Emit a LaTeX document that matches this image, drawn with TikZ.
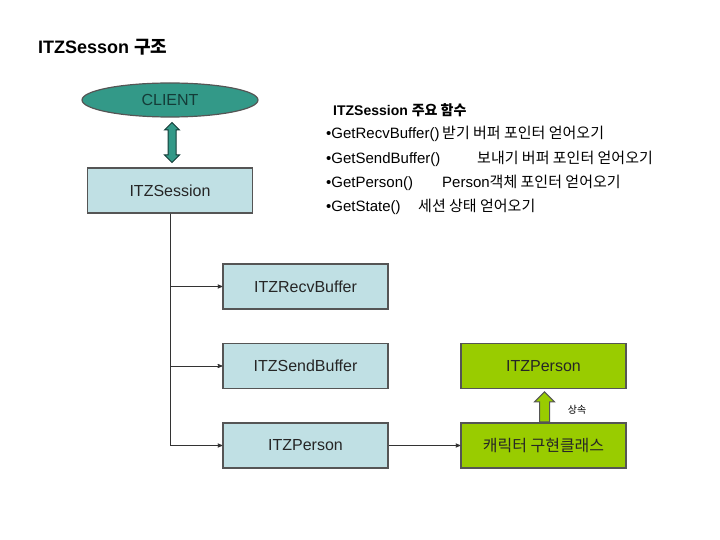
\documentclass[tikz,border=0pt]{standalone}
\usepackage{fontspec}
\setmainfont{Liberation Sans}
\newfontfamily\krfont{Noto Sans CJK KR}
\usetikzlibrary{arrows}
\usetikzlibrary{calc,shapes.geometric,shapes.arrows}

\definecolor{clientteal}{RGB}{51,153,136}
\definecolor{clienttext}{RGB}{20,60,56}
\definecolor{boxblue}{RGB}{192,224,228}
\definecolor{boxgreen}{RGB}{153,204,0}
\definecolor{edgegray}{RGB}{85,85,85}

\tikzset{
 bluebox/.style={draw=edgegray, line width=1.2, fill=boxblue, text=black!85, minimum width=165, minimum height=45,
   inner sep=0, font=\fontsize{16}{18}\selectfont},
 greenbox/.style={bluebox, fill=boxgreen},
 link/.style={black!80, line width=.8, ->, >=stealth'},
 listtext/.style={anchor=base west, inner sep=0, font=\fontsize{15}{17}\selectfont},
}

\begin{document}
\begin{tikzpicture} [x=1pt,y=-1pt]
\useasboundingbox (0,0) rectangle (720,540);
\node[anchor=base west, inner sep=0, font=\bfseries\fontsize{18}{20}\selectfont] (title) at (38,54) {ITZSesson {\krfont 구조}};

\node[ellipse, draw=edgegray, line width=1.2, fill=clientteal, text=clienttext, minimum width=176, minimum height=34,
  font=\fontsize{16}{18}\selectfont] (client) at (170,100) {CLIENT};
\node[bluebox] (session) at (170,190.5) {ITZSession};
\node[double arrow, draw=clienttext, line width=1, fill=clientteal, rotate=90, inner sep=3.5, minimum height=40,
  double arrow head extend=3.5] (link1) at ($(client.south)!.5!(session.north)+(2,0)$) {};

% member classes
\foreach \name/\y/\txt in  {recv/286.5/ITZRecvBuffer, send/366/ITZSendBuffer, person/445.5/ITZPerson} {
 \node[bluebox] (\name) at (305.5,\y) {\txt};
 \draw[link] (session.south) |- (\name.west);
}

\node[greenbox] (gperson) at (543.5,366) {ITZPerson};
\node[greenbox] (impl) at (543.5,445.5) {\krfont 캐릭터 구현클래스};
\draw[link] (person.east) -- (impl.west);
\node[single arrow, draw=edgegray, line width=1, fill=boxgreen, rotate=90, inner sep=4.5, minimum height=30,
  single arrow head extend=5, anchor=west] (inherit) at ($(impl.north)+(1,0)$) {};
\node[font=\krfont\fontsize{10}{12}\selectfont] (inheritlbl) at (577,410) {상속};

% function list
\node[listtext, font=\bfseries\fontsize{14}{16}\selectfont] (funcs) at (333,116) {ITZSession {\krfont 주요 함수}};
\foreach \y/\fn/\xd/\desc in  {139/GetRecvBuffer()/442/{\krfont 받기 버퍼 포인터 얻어오기},
  163.5/GetSendBuffer()/477/{\krfont 보내기 버퍼 포인터 얻어오기},
  187.5/GetPerson()/442/Person{\krfont 객체 포인터 얻어오기},
  211.5/GetState()/418/{\krfont 세션 상태 얻어오기}} {
 \node[listtext] (fn\y) at (326,\y) {\textbullet\fn};
 \node[listtext, font=\fontsize{15}{17}\selectfont] (desc\y) at (\xd,\y) {\desc};
}
\end{tikzpicture}
\end{document}
